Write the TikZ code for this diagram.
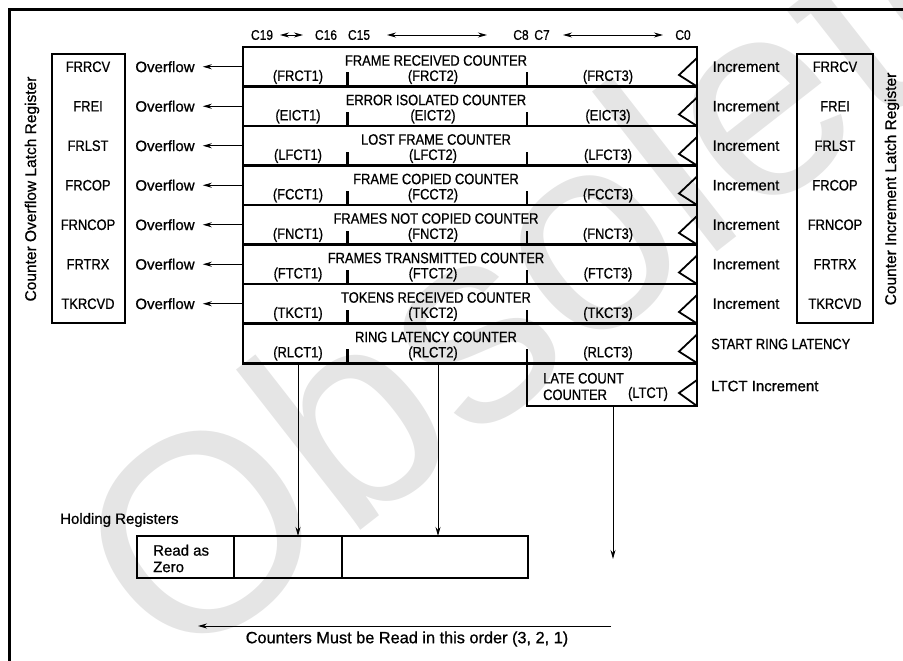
\documentclass[tikz,border=0pt]{standalone}
\usepackage{fontspec}
\setmainfont{Liberation Sans}
\newfontfamily\capsf[FakeStretch=0.86,FakeBold=0.8]{Liberation Sans}
\newfontfamily\txtf[FakeBold=0.8]{Liberation Sans}
\usetikzlibrary{arrows.meta}
\begin{document}
\begin{tikzpicture}[x=1pt,y=-1pt,
  heavy/.style={line width=2.4pt},
  medium/.style={line width=1.8pt},
  fine/.style={line width=0.9pt},
  lbl/.style={inner sep=0pt,font=\txtf\fontsize{15}{16.5}\selectfont},
  capt/.style={inner sep=0pt,font=\capsf\fontsize{15}{16.5}\selectfont},
  hdr/.style={inner sep=0pt,font=\capsf\fontsize{14}{16}\selectfont},
  tipe/.style={-{Stealth[length=9pt,width=5pt]}},
  dbl/.style={{Stealth[length=9pt,width=5pt]}-{Stealth[length=9pt,width=5pt]}},
]
\useasboundingbox (0,0) rectangle (903,661);
% watermark
\begin{scope}
\clip (0,0) rectangle (903,661);
\node[inner sep=0pt,rotate=38,text=black!10,font=\fontsize{280}{280}\selectfont] (wm) at (555,252) {Obsolete};
\end{scope}
% outer frame
\draw[line width=3.5pt] (9.5,661) -- (9.5,9.5) -- (903,9.5);
% header
\node[hdr] (h19) at (262,35) {C19};
\node[hdr] (h16) at (326,35) {C16};
\node[hdr] (h15) at (359,35) {C15};
\node[hdr] (h8) at (521,35) {C8};
\node[hdr] (h7) at (542,35) {C7};
\node[hdr] (h0) at (683,35) {C0};
\coordinate (a1l) at (280,35); \coordinate (a1r) at (303,35);
\coordinate (a2l) at (387,35); \coordinate (a2r) at (487,35);
\coordinate (a3l) at (563,35); \coordinate (a3r) at (663,35);
\draw[fine,dbl] (a1l) -- (a1r);
\draw[fine,dbl] (a2l) -- (a2r);
\draw[fine,dbl] (a3l) -- (a3r);
% counter rows
\foreach \ttl/\ab/\reg [count=\i] in {FRAME RECEIVED COUNTER/FRCT/FRRCV, ERROR ISOLATED COUNTER/EICT/FREI, LOST FRAME COUNTER/LFCT/FRLST, FRAME COPIED COUNTER/FCCT/FRCOP, FRAMES NOT COPIED COUNTER/FNCT/FRNCOP, FRAMES TRANSMITTED COUNTER/FTCT/FRTRX, TOKENS RECEIVED COUNTER/TKCT/TKRCVD, RING LATENCY COUNTER/RLCT/X}{
  \pgfmathsetmacro\yt{47+(\i-1)*39.5}
  \pgfmathsetmacro\yb{\yt+39.5}
  \pgfmathsetmacro\yc{\yt+19.75}
  \node[capt] (t\i) at (436,\yt+13.5) {\ttl};
  \node[capt] (p\i) at (298,\yt+30) {(\ab1)};
  \node[capt] (q\i) at (433,\yt+30) {(\ab2)};
  \node[capt] (r\i) at (608,\yt+30) {(\ab3)};
  \draw[heavy] (347.5,\yb) -- ++(0,-14);
  \draw[heavy] (527,\yb) -- ++(0,-14);
  \draw[medium,line join=miter] (697,\yt+11) -- (679,\yt+28) -- (697,\yb);
  \ifnum\i<8
    \draw[heavy] (243,\yb) -- (697,\yb);
    \coordinate (e\i) at (243,\yc);
    \node[lbl] (o\i) at (165,\yc) {Overflow};
    \draw[fine,tipe] (e\i) -- ([xshift=8pt]o\i.east);
    \node[lbl] (n\i) at (746,\yc) {Increment};
    \node[capt] (L\i) at (88,\yc) {\reg};
    \node[capt] (R\i) at (835,\yc) {\reg};
  \fi
}
\draw[heavy] (243,47) rectangle (697,363.5);
% late count counter
\draw[heavy] (527,363.5) -- (527,406) -- (697,406) -- (697,363.5);
\node[capt,anchor=west,align=left] (lc) at (543,386.5) {LATE COUNT\\COUNTER};
\node[capt] (lc3) at (648,394) {(LTCT)};
\draw[medium,line join=miter] (697,380) -- (679,393) -- (697,406);
\node[capt,anchor=west] (srl) at (711,344) {START RING LATENCY};
\node[lbl,anchor=west] (lti) at (711,386) {LTCT Increment};
% latch registers
\draw[medium] (52,54) rectangle (125,323);
\draw[medium] (797,54) rectangle (873,323);
\node[inner sep=0pt,rotate=90,font=\txtf\fontsize{15.5}{17}\selectfont] (lreg) at (32,189) {Counter Overflow Latch Register};
\node[inner sep=0pt,rotate=90,font=\txtf\fontsize{15.5}{17}\selectfont] (rreg) at (892,189) {Counter Increment Latch Register};
% holding registers
\node[lbl,anchor=west] (hold) at (60,520) {Holding Registers};
\draw[heavy] (137,536) rectangle (528,578);
\draw[heavy] (234,536) -- (234,578);
\draw[heavy] (342,536) -- (342,578);
\node[lbl,anchor=west,align=left] (rz) at (153,558.5) {Read as\\Zero};
\coordinate (s1) at (298,364.7); \coordinate (d1) at (298,536);
\coordinate (s2) at (438,364.7); \coordinate (d2) at (438,536);
\coordinate (s3) at (613,407.2); \coordinate (d3) at (613,559);
\draw[fine,tipe] (s1) -- (d1);
\draw[fine,tipe] (s2) -- (d2);
\draw[fine,tipe] (s3) -- (d3);
% read order
\coordinate (ordR) at (611,626); \coordinate (ordL) at (198,626);
\draw[fine,tipe] (ordR) -- (ordL);
\node[lbl,font=\txtf\fontsize{16.3}{18}\selectfont] (order) at (407,639) {Counters Must be Read in this order (3, 2, 1)};
\end{tikzpicture}
\end{document}
